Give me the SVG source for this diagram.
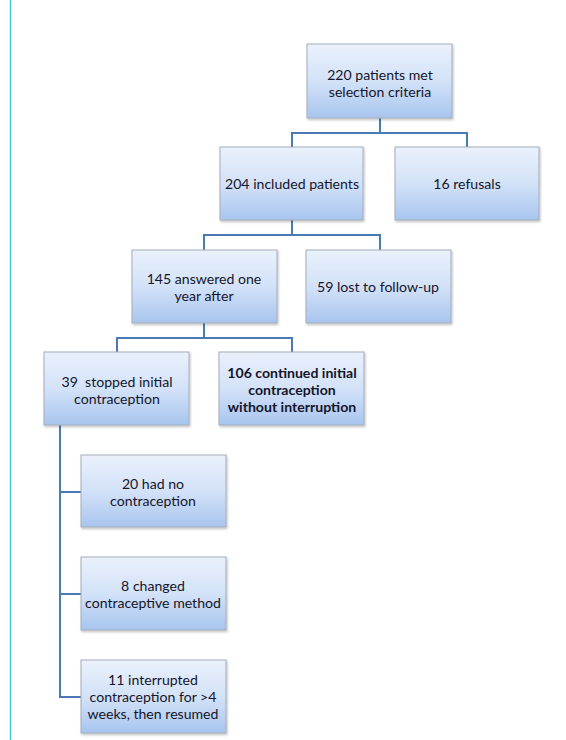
<svg xmlns="http://www.w3.org/2000/svg" width="566" height="740" viewBox="0 0 566 740">
<defs>
<linearGradient id="g" x1="0" y1="0" x2="0" y2="1">
<stop offset="0" stop-color="#eaf1fc"/>
<stop offset="0.5" stop-color="#d3e2f8"/>
<stop offset="1" stop-color="#a8c5ef"/>
</linearGradient>
<filter id="sh" x="-10%" y="-10%" width="130%" height="130%">
<feDropShadow dx="1" dy="1.5" stdDeviation="1.2" flood-color="#000" flood-opacity="0.25"/>
</filter>
</defs>
<style>
rect.box{fill:url(#g);stroke:#a3adb9;stroke-width:1;filter:url(#sh)}
text{font-family:Lato,"Liberation Sans",sans-serif;font-size:14.1px;fill:#15152a;text-anchor:middle}
text.b{font-weight:bold}
.c{fill:none;stroke:#4a79b3;stroke-width:2}
</style>
<rect width="566" height="740" fill="#fff"/>
<line x1="10.5" y1="0" x2="10.5" y2="740" stroke="#3fc6dd" stroke-width="1.5"/>
<g id="connectors">
<path class="c" d="M380 118V133M292 147V133H467V147"/>
<path class="c" d="M292 220V235M204 250V235H380V250"/>
<path class="c" d="M204 323V338M117 352V338H292V352"/>
<path class="c" d="M60 425V697H81M60 492H81M60 594H81"/>
</g>
<g id="n1"><rect class="box" x="307" y="44" width="145" height="74"/><text x="380" y="80">220 patients met</text><text x="380" y="97">selection criteria</text></g>
<g id="n2"><rect class="box" x="220" y="147" width="143" height="73"/><text x="292" y="189">204 included patients</text></g>
<g id="n3"><rect class="box" x="395" y="147" width="144" height="73"/><text x="467" y="189">16 refusals</text></g>
<g id="n4"><rect class="box" x="132" y="250" width="145" height="73"/><text x="204" y="284">145 answered one</text><text x="204" y="301">year after</text></g>
<g id="n5"><rect class="box" x="306" y="250" width="145" height="73"/><text x="378" y="292">59 lost to follow-up</text></g>
<g id="n6"><rect class="box" x="44" y="352" width="145" height="73"/><text x="117" y="387">39&#160; stopped initial</text><text x="117" y="404">contraception</text></g>
<g id="n7"><rect class="box" x="219" y="352" width="145" height="73"/><text class="b" x="292" y="378">106 continued initial</text><text class="b" x="292" y="395">contraception</text><text class="b" x="292" y="412">without interruption</text></g>
<g id="n8"><rect class="box" x="81" y="455" width="145" height="72"/><text x="153" y="489">20 had no</text><text x="153" y="506">contraception</text></g>
<g id="n9"><rect class="box" x="81" y="557" width="145" height="73"/><text x="153" y="591">8 changed</text><text x="153" y="608">contraceptive method</text></g>
<g id="n10"><rect class="box" x="81" y="660" width="145" height="73"/><text x="153" y="685">11 interrupted</text><text x="153" y="702">contraception for &gt;4</text><text x="153" y="719">weeks, then resumed</text></g>
</svg>
